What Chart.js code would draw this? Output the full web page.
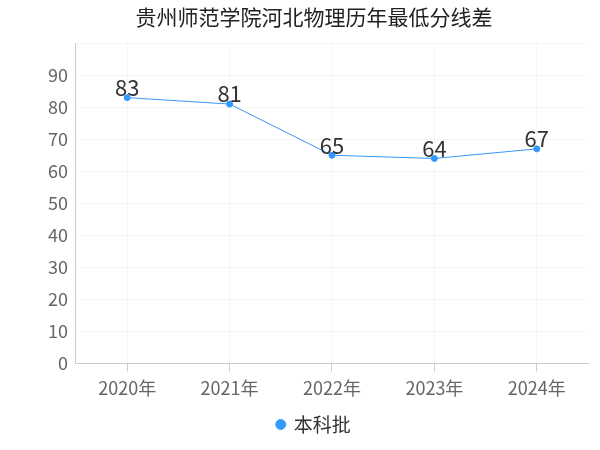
<!DOCTYPE html>
<html>
<head>
<meta charset="utf-8">
<script src="https://cdn.jsdelivr.net/npm/chart.js@4"></script>
<style>
  body { margin: 0; background: #fff; }
  #wrap { width: 600px; height: 450px; }
</style>
</head>
<body>
<div id="wrap"><canvas id="chart"></canvas></div>
<script>
const years = ['2020年', '2021年', '2022年', '2023年', '2024年'];
const scores = [83, 81, 65, 64, 67];
const yTicks = [0, 10, 20, 30, 40, 50, 60, 70, 80, 90];

const FONT = "'Noto Sans CJK SC', 'Noto Sans', sans-serif";

// draw the value above each point
const valueLabels = {
  id: 'valueLabels',
  afterDatasetsDraw(chart) {
    const ctx = chart.ctx;
    const meta = chart.getDatasetMeta(0);
    ctx.save();
    ctx.fillStyle = '#333';
    ctx.font = '22px ' + FONT;
    ctx.textAlign = 'center';
    ctx.textBaseline = 'bottom';
    meta.data.forEach((pt, i) => {
      ctx.fillText(String(scores[i]), pt.x, pt.y + 1);
    });
    ctx.restore();
  },
};

new Chart(document.getElementById('chart'), {
  type: 'line',
  data: {
    labels: years,
    datasets: [{
      label: '本科批',
      data: scores,
      borderColor: '#3399ff',
      backgroundColor: '#3399ff',
      borderWidth: 1,
      pointRadius: 3,
      pointBackgroundColor: '#3399ff',
      tension: 0,
    }],
  },
  options: {
    responsive: true,
    maintainAspectRatio: false,
    animation: false,
    layout: { padding: { left: 40, right: 12, top: 0, bottom: 6 } },
    plugins: {
      title: {
        display: true,
        text: '贵州师范学院河北物理历年最低分线差',
        color: '#222',
        font: { family: FONT, size: 21, weight: 'normal' },
        padding: { top: 4, bottom: 14 },
      },
      legend: {
        position: 'bottom',
        labels: {
          color: '#333',
          font: { family: FONT, size: 19 },
          usePointStyle: true,
          pointStyle: 'circle',
          boxWidth: 7,
          boxHeight: 7,
        },
      },
      tooltip: { enabled: false },
    },
    scales: {
      x: {
        offset: true,
        grid: { color: 'rgba(0,0,0,0.03)', drawTicks: true, tickColor: '#ccc' },
        border: { color: '#ccc' },
        ticks: { color: '#666', font: { family: FONT, size: 18 }, padding: 6 },
      },
      y: {
        min: 0,
        max: 100,
        afterBuildTicks(axis) {
          axis.ticks = yTicks.concat([100]).map((v) => ({ value: v }));
        },
        grid: { color: 'rgba(0,0,0,0.04)', drawTicks: false },
        border: { color: '#ccc' },
        ticks: {
          color: '#666',
          font: { family: FONT, size: 18 },
          padding: 8,
          callback: (v) => (yTicks.includes(v) ? v : ''),
        },
      },
    },
  },
  plugins: [valueLabels],
});
</script>
</body>
</html>
